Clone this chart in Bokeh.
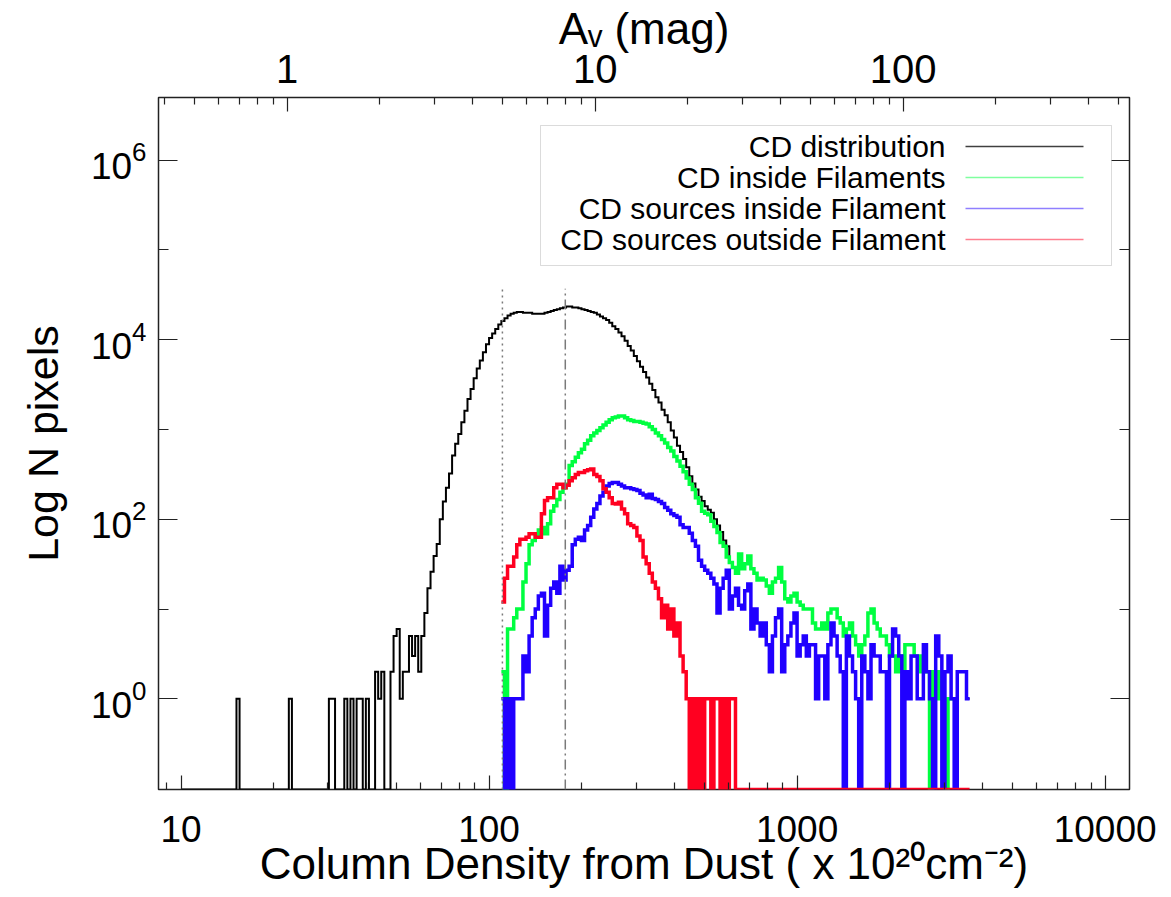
import numpy as np
from bokeh.plotting import figure
from bokeh.models import (Range1d, LogAxis, LogScale, FixedTicker, BasicTickFormatter,
                          LogTickFormatter, Label, BoxAnnotation)
from bokeh.embed import file_html
from bokeh.resources import INLINE

# ---------------- data ----------------
LOG_N0 = 1.0          # log10 of first bin edge (x 1e20 cm^-2)
BIN_DEX = 0.01        # bin width in dex
CD_PER_AV = 22.1      # column density (1e20 cm^-2) per magnitude of A_V

x_tick_labels = [10, 100, 1000, 10000]
y_tick_labels = [1, 100, 10000, 1000000]
y_minor_labels = [10, 1000, 100000]
av_tick_labels = [1, 10, 100]

series_names = ["CD distribution", "CD inside Filaments",
                "CD sources inside Filament", "CD sources outside Filament"]
series_colors = ["#000000", "#00ff40", "#2000ff", "#ff0020"]

cd_all_start = 0
cd_all = [
    0, 0, 0, 0, 0, 0, 0, 0, 0, 0,
    0, 0, 0, 0, 0, 0, 0, 0, 1, 0,
    0, 0, 0, 0, 0, 0, 0, 0, 0, 0,
    0, 0, 0, 0, 0, 1, 0, 0, 0, 0,
    0, 0, 0, 0, 0, 0, 0, 0, 1, 1,
    0, 0, 0, 1, 0, 1, 0, 1, 1, 0,
    1, 0, 0, 2, 1, 2, 0, 0, 2, 5,
    6, 1, 2, 2, 5, 3, 5, 2, 5, 9,
    17, 26, 39, 53, 100, 158, 224, 323, 513, 692,
    891, 1202, 1622, 2188, 2818, 3715, 4786, 5888, 7244, 8913,
    10470, 11750, 13180, 14790, 16220, 17380, 18620, 19500, 19950, 20420,
    20420, 19950, 19950, 19950, 19500, 19500, 19500, 19500, 19950, 20420,
    20890, 21380, 21880, 22390, 22910, 23440, 23440, 22910, 22910, 22390,
    21880, 21380, 20890, 20420, 19950, 19050, 18200, 17380, 16600, 15490,
    14130, 13180, 12020, 10960, 9772, 8511, 7586, 6607, 5754, 5012,
    4365, 3802, 3236, 2754, 2291, 1995, 1660, 1445, 1202, 977,
    813, 661, 562, 468, 380, 302, 251, 214, 178, 160,
    140, 128, 118, 100, 85, 72, 58, 50, 33, 29,
    25, 41, 28, 32, 39, 28, 25, 21, 22, 21,
    18, 15, 20, 22, 29, 20, 13, 12, 14, 15,
    12, 11, 10, 10, 10, 7, 6, 6, 7, 6,
    9, 10, 10, 8, 7, 5, 6, 7, 5, 4,
    3, 4, 5, 9, 10, 7, 6, 5, 5, 4,
    3, 6, 5, 3, 2, 4, 4, 4, 3, 3,
    2, 4, 2, 1, 2, 5, 3, 1, 2, 3,
    1, 0, 2, 2, 2, 1,
]

cd_fil_start = 104
cd_fil = [
    2, 0, 6, 6, 8, 10,
    10, 20, 32, 52, 58, 66, 76, 81, 69, 89,
    123, 141, 166, 200, 224, 245, 398, 437, 490, 550,
    603, 692, 759, 851, 912, 977, 1047, 1122, 1202, 1288,
    1349, 1380, 1413, 1413, 1349, 1288, 1259, 1230, 1230, 1202,
    1175, 1148, 1072, 1000, 912, 851, 776, 708, 631, 575,
    501, 447, 389, 339, 288, 245, 214, 174, 151, 123,
    117, 112, 95, 83, 71, 55, 50, 38, 33, 29,
    25, 41, 28, 32, 39, 28, 25, 21, 22, 21,
    18, 15, 20, 22, 29, 20, 13, 12, 14, 15,
    12, 11, 10, 10, 10, 7, 6, 6, 7, 6,
    9, 10, 10, 8, 7, 5, 6, 7, 5, 4,
    3, 4, 5, 9, 10, 7, 6, 5, 5, 4,
    3, 3, 2, 3, 2, 4, 4, 4, 3, 3,
    2, 2, 2, 0, 2, 1, 2, 1, 0, 1, 1,
]

src_in_start = 104
src_in = [
    1, 0, 1, 0, 1, 1,
    1, 3, 2, 5, 8, 10, 14, 15, 5, 11,
    17, 20, 15, 30, 21, 27, 30, 52, 60, 63,
    58, 76, 85, 105, 130, 150, 182, 200, 234, 250,
    257, 257, 245, 234, 225, 224, 219, 214, 209, 195,
    186, 174, 190, 170, 166, 158, 150, 135, 126, 115,
    110, 105, 87, 81, 81, 70, 58, 50, 35, 30,
    27, 25, 22, 19, 9, 17, 22, 27, 10, 14,
    17, 11, 10, 16, 19, 6, 10, 7, 5, 7,
    4, 2, 5, 8, 10, 2, 4, 5, 7, 9,
    3, 4, 5, 3, 4, 4, 1, 3, 3, 1,
    4, 7, 5, 3, 2, 0, 5, 3, 2, 1,
    0, 3, 2, 1, 4, 3, 3, 2, 2, 0,
    3, 6, 5, 3, 0, 2, 1, 3, 3, 1,
    1, 4, 2, 1, 0, 5, 3, 0, 2, 3,
    1, 0, 2, 2, 2, 1,
]

src_out_start = 104
src_out = [
    12, 22, 30, 30, 38, 52,
    60, 60, 63, 69, 69, 63, 63, 115, 162, 174,
    174, 224, 245, 245, 224, 240, 269, 290, 316, 331,
    331, 347, 355, 363, 316, 300, 269, 219, 200, 174,
    150, 148, 155, 130, 115, 89, 85, 81, 65, 58,
    38, 32, 25, 20, 17, 13, 8, 11, 6, 10,
    5, 7, 3, 2, 1, 0, 1, 0, 1, 0,
    1, 1, 0, 1, 1, 0, 1, 0, 1, 1,
] + [0] * 76

av_thresholds = [5, 8]          # A_V (mag) marked by vertical lines
threshold_top = 3.7e4           # counts reached by the marker lines

# ---------------- figure ----------------
FONT = "Liberation Sans"
W, H = 1160, 895
FL, FT, FR, FB = 158, 95, 1129, 789
X0, X1 = 8.45, 12000.0
Y0, Y1 = 0.0975, 5.0e6

p = figure(width=W, height=H, x_axis_type="log", y_axis_type="log",
           x_range=Range1d(X0, X1), y_range=Range1d(Y0, Y1),
           output_backend="svg", toolbar_location=None,
           min_border_left=FL, min_border_right=W - FR,
           min_border_top=FT, min_border_bottom=H - FB)
p.grid.visible = False
p.outline_line_color = "#222222"
p.outline_line_width = 1.5
p.background_fill_color = "white"
p.border_fill_color = "white"


def style_axis(ax, major_in, minor_in, size):
    ax.axis_line_color = None
    ax.major_tick_in = major_in
    ax.major_tick_out = 0
    ax.minor_tick_in = minor_in
    ax.minor_tick_out = 0
    ax.major_tick_line_color = "#222222"
    ax.minor_tick_line_color = "#222222"
    ax.major_tick_line_width = 1.2
    ax.minor_tick_line_width = 1.2
    ax.major_label_text_font = FONT
    ax.major_label_text_font_size = size
    ax.major_label_text_color = "black"
    ax.axis_label_text_font = FONT
    ax.axis_label_text_font_style = "normal"
    ax.axis_label_text_color = "black"


x_minor = [k * 10 ** e for e in range(0, 4) for k in range(2, 10) if X0 < k * 10 ** e < X1]
av_lo, av_hi = X0 / CD_PER_AV, X1 / CD_PER_AV
av_minor = [k * 10.0 ** e for e in range(-1, 3) for k in range(2, 10) if av_lo < k * 10.0 ** e < av_hi]

xb = p.below[0]
xb.ticker = FixedTicker(ticks=x_tick_labels, minor_ticks=x_minor)
xb.formatter = BasicTickFormatter(use_scientific=False)
style_axis(xb, 14, 7, "37px")
xb.major_label_standoff = 26
xb.axis_label = "Column Density from Dust ( x 10\u00b2\u2070cm\u207b\u00b2)"
xb.axis_label_text_font_size = "44px"
xb.axis_label_standoff = -6

yl = p.left[0]
yl.ticker = FixedTicker(ticks=y_tick_labels, minor_ticks=y_minor_labels)
yl.formatter = LogTickFormatter()
style_axis(yl, 19, 10, "37px")
yl.major_label_standoff = 12
yl.axis_label = "Log N pixels"
yl.axis_label_text_font_size = "43px"
yl.axis_label_standoff = 21

p.extra_x_ranges = {"av": Range1d(av_lo, av_hi)}
p.extra_x_scales = {"av": LogScale()}
top = LogAxis(x_range_name="av",
              ticker=FixedTicker(ticks=av_tick_labels, minor_ticks=av_minor),
              formatter=BasicTickFormatter(use_scientific=False))
style_axis(top, 14, 7, "40px")
top.major_label_standoff = 15
top.axis_label = "A\u1d65 (mag)"
top.axis_label_text_font_size = "44px"
top.axis_label_standoff = -1
p.add_layout(top, "above")

right = LogAxis(ticker=FixedTicker(ticks=y_tick_labels, minor_ticks=y_minor_labels),
                formatter=BasicTickFormatter(use_scientific=False))
style_axis(right, 19, 10, "2px")
right.major_label_text_color = None
right.major_label_standoff = 0
p.add_layout(right, "right")


def draw_hist(start, counts, color, width):
    idx = np.arange(start, start + len(counts) + 1)
    x = 10 ** (LOG_N0 + BIN_DEX * idx)
    y = np.array(list(counts) + [counts[-1]], dtype=float)
    y = np.where(y > 0, y, Y0)
    p.step(x=x, y=y, mode="after", line_color=color, line_width=width, line_join="miter")


draw_hist(cd_all_start, cd_all, series_colors[0], 2)
draw_hist(cd_fil_start, cd_fil, series_colors[1], 3.5)
draw_hist(src_in_start, src_in, series_colors[2], 3.5)
draw_hist(src_out_start, src_out, series_colors[3], 3.5)

for av, dash in zip(av_thresholds, ["2 4", "10 4 2 4"]):
    n = av * CD_PER_AV
    p.segment(x0=[n], y0=[Y0], x1=[n], y1=[threshold_top],
              line_color="#7a7a7a", line_width=1.5, line_dash=dash)

# ---------------- legend (text left, sample right) ----------------
p.add_layout(BoxAnnotation(left=382, right=953, bottom=524, top=664,
                           left_units="screen", right_units="screen",
                           top_units="screen", bottom_units="screen",
                           fill_color="white", fill_alpha=1.0,
                           line_color="#888888", line_width=1))
row_y = [643, 612, 581, 550]
for name, col, ry in zip(series_names, series_colors, row_y):
    p.add_layout(Label(x=787, y=ry, x_units="screen", y_units="screen", text=name,
                       text_align="right", text_baseline="middle",
                       text_font=FONT, text_font_size="30px", text_color="black"))
    p.add_layout(BoxAnnotation(left=807, right=925, bottom=ry - 0.75, top=ry + 0.75,
                               left_units="screen", right_units="screen",
                               top_units="screen", bottom_units="screen",
                               fill_color=col, fill_alpha=0.75 if col == "#000000" else 0.5,
                               line_color=None))

open("out.html", "w").write(file_html(p, INLINE))
